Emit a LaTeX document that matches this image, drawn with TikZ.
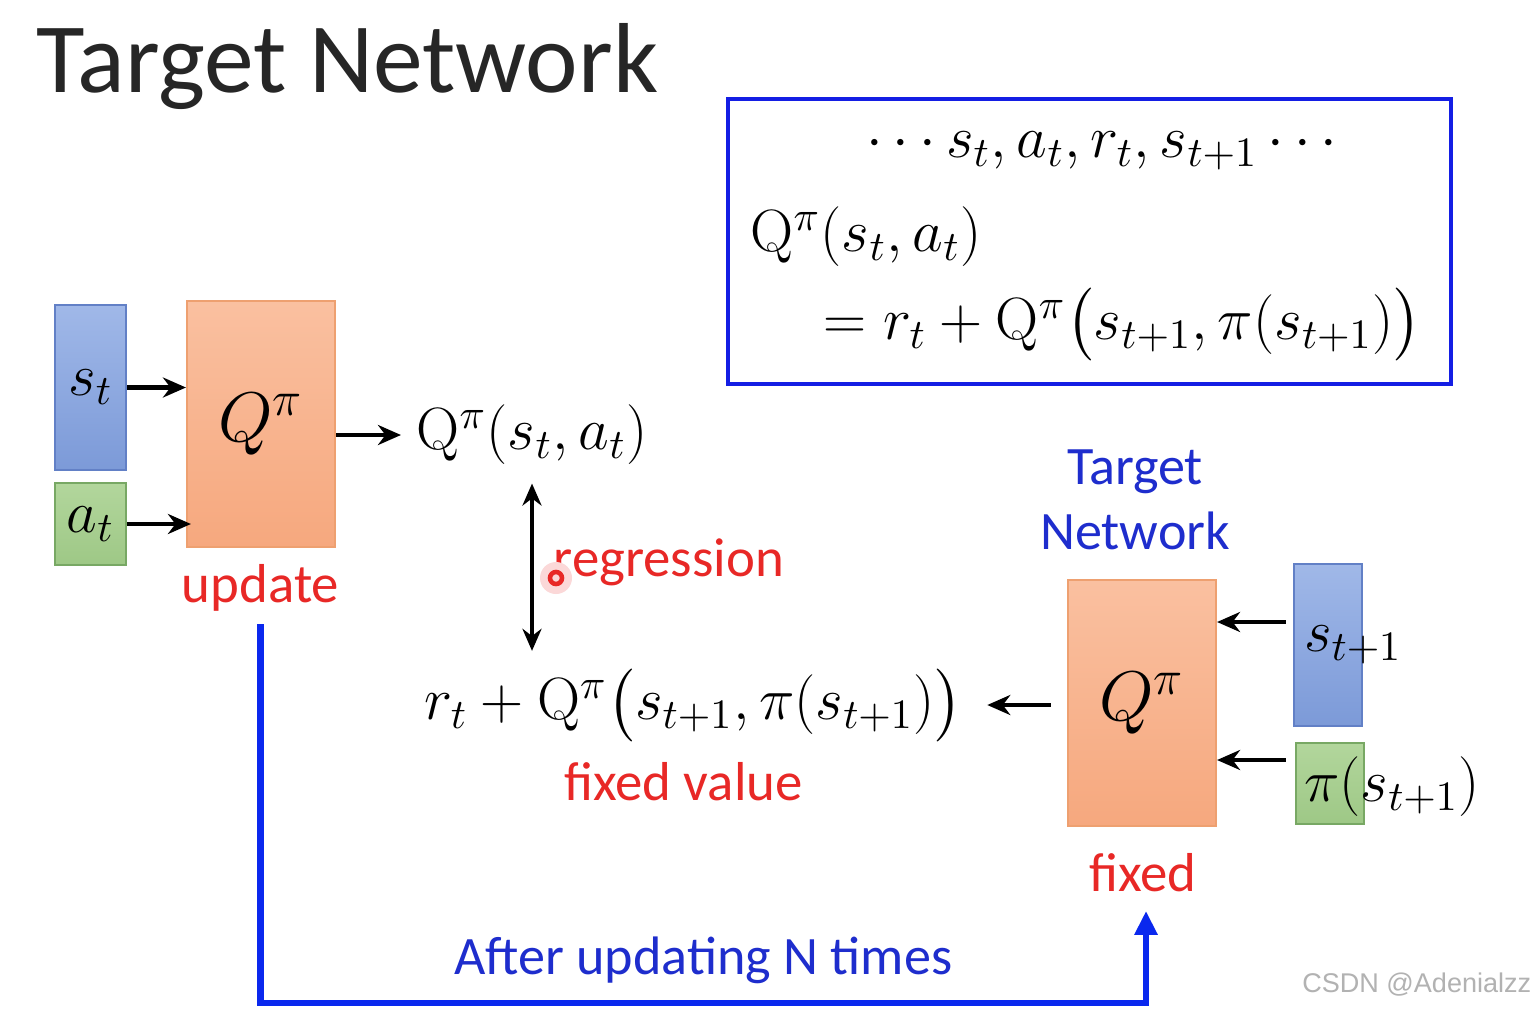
\documentclass[tikz,border=0pt]{standalone}
\usepackage{fix-cm}
\usepackage{amsmath}
\usepackage[no-math]{fontspec}
\setmainfont{Carlito}
\newfontfamily\markfont{Liberation Sans}
\usetikzlibrary{arrows.meta,positioning,calc}

\definecolor{boxblue}{RGB}{20,30,228}
\definecolor{routeblue}{RGB}{10,40,238}
\definecolor{lblblue}{RGB}{30,45,205}
\definecolor{lblred}{RGB}{232,40,38}
\definecolor{sttop}{RGB}{160,184,232}
\definecolor{stbot}{RGB}{124,154,216}
\definecolor{stline}{RGB}{98,128,198}
\definecolor{attop}{RGB}{178,214,156}
\definecolor{atbot}{RGB}{158,200,134}
\definecolor{atline}{RGB}{120,168,100}
\definecolor{qtop}{RGB}{250,192,160}
\definecolor{qbot}{RGB}{246,168,126}
\definecolor{qline}{RGB}{238,160,112}

\newcommand{\mathsz}{\fontsize{17}{20}\selectfont}

\tikzset{
  % input boxes (state / action)
  stbox/.style={draw=stline, rectangle, inner sep=0pt, line width=0.6pt,
                top color=sttop, bottom color=stbot, font=\mathsz},
  atbox/.style={draw=atline, rectangle, inner sep=0pt, line width=0.6pt,
                top color=attop, bottom color=atbot, font=\mathsz},
  % Q network box
  netbox/.style={draw=qline, rectangle, inner sep=0pt, line width=0.6pt,
                 minimum width=1.48cm, minimum height=2.46cm,
                 top color=qtop, bottom color=qbot, font=\fontsize{20}{24}\selectfont},
  % formula frame
  bellbox/.style={draw=boxblue, rectangle, line width=1.3pt},
  % texts
  mathtxt/.style={inner sep=0pt, font=\mathsz},
  titletxt/.style={inner sep=0pt, font=\fontsize{28.3}{32}\selectfont, text=black!85},
  redlbl/.style={inner sep=0pt, font=\fontsize{15.6}{18}\selectfont, text=lblred},
  bluelbl/.style={inner sep=0pt, font=\fontsize{15.4}{18.4}\selectfont, text=lblblue, align=center},
  % arrows
  flowarr/.style={-{Stealth[length=2.3mm,width=2mm]}, line width=1.3pt},
  flowbi/.style={{Stealth[length=2.2mm,width=1.9mm]}-{Stealth[length=2.2mm,width=1.9mm]}, line width=1.2pt},
  routearr/.style={-{Triangle[length=2.4mm,width=2.2mm]}, line width=1.8pt, draw=routeblue}
}

\begin{document}
\begin{tikzpicture}
\path[fill=white, use as bounding box] (0,0) rectangle (15.36,-10.10);

% ============== Title ==============
\node[titletxt, anchor=base west] (title) at (0.36,-0.92) {Target Network};

% ============== Bellman relation (framed) ==============
\node[bellbox, minimum width=7.23cm, minimum height=2.85cm] (bellman) at (10.895,-2.415) {};
\node[mathtxt] (seq) at (11.07,-1.50) {$\cdots s_t, a_t, r_t, s_{t+1} \cdots$};
\node[mathtxt, anchor=west] (bellq) at (7.50,-2.37) {$\mathrm{Q}^\pi(s_t, a_t)$};
\node[mathtxt, anchor=east] (bellrhs) at (14.22,-3.25) {$=r_t + \mathrm{Q}^\pi\bigl(s_{t+1}, \pi(s_{t+1})\bigr)$};

% ============== Online network (updated) ==============
\node[stbox, minimum width=0.71cm, minimum height=1.65cm] (stin) at (0.905,-3.875) {$s_t$};
\node[atbox, minimum width=0.71cm, minimum height=0.82cm] (atin) at (0.905,-5.24) {$a_t$};
\node[netbox] (qnet) at (2.61,-4.24) {$Q^\pi$};
\node[redlbl] (update) at (2.605,-5.88) {update};
\node[mathtxt] (qval) at (5.32,-4.35) {$\mathrm{Q}^\pi(s_t, a_t)$};

\draw[flowarr] (stin.east) -- (stin.east -| qnet.west);
\draw[flowarr] (atin.east) -- ([xshift=0.5mm]atin.east -| qnet.west);
\draw[flowarr, shorten >=1.5mm] (qnet.east |- qval.west) -- (qval.west);

% ============== Regression target ==============
\node[mathtxt] (tval) at (6.935,-7.05) {$r_t + \mathrm{Q}^\pi\bigl(s_{t+1}, \pi(s_{t+1})\bigr)$};
\node[redlbl] (fixval) at (6.835,-7.82) {fixed value};
\node[redlbl, anchor=west] (regress) at (5.53,-5.62) {regression};

\draw[flowbi] ([yshift=-1.8mm]qval.south) -- ([yshift=1.7mm]qval.south |- tval.north);

% laser pointer mark
\fill[lblred!18] (5.56,-5.78) circle (0.16);
\node[circle, draw=lblred, line width=1.3pt, minimum size=1.2mm, inner sep=0pt] (pointer) at (5.56,-5.78) {};

% ============== Target network (fixed) ==============
\node[bluelbl] (tnetlbl) at (11.35,-5.00) {Target\\Network};
\node[netbox] (tnet) at (11.42,-7.03) {$Q^\pi$};
\node[redlbl] (fixed) at (11.43,-8.73) {fixed};

\node[stbox, minimum width=0.68cm, minimum height=1.62cm] (st1in) at (13.28,-6.45) {};
\node[mathtxt] (st1lbl) at (13.53,-6.45) {$s_{t+1}$};
\node[atbox, minimum width=0.68cm, minimum height=0.81cm] (piin) at (13.30,-7.835) {};
\node[mathtxt] (pilbl) at (13.92,-7.87) {$\pi(s_{t+1})$};

\draw[flowarr, shorten <=0.7mm] ([yshift=2.3mm]st1in.west) -- ([yshift=2.3mm]st1in.west -| tnet.east);
\draw[flowarr, shorten <=0.9mm] ([yshift=2.35mm]piin.west) -- ([yshift=2.35mm]piin.west -| tnet.east);
\draw[flowarr, shorten <=1.6mm, shorten >=2.4mm] (tnet.west |- tval.east) -- (tval.east);

% ============== Periodic copy: online -> target ==============
\coordinate (routebot) at (0,-10.03);
\draw[routearr] ([yshift=-1.2mm]update.south) -- (update.south |- routebot)
  -- node[midway, above=1.6mm, bluelbl] (afterlbl) {After updating N times}
  ([xshift=0.3mm]fixed.south |- routebot) -- ([xshift=0.3mm,yshift=-1.8mm]fixed.south);

% watermark
\node[anchor=east, inner sep=0pt, text=black!30, font=\markfont\fontsize{7.7}{9}\selectfont] (mark) at (15.32,-9.85) {CSDN @Adenialzz};

\end{tikzpicture}
\end{document}
